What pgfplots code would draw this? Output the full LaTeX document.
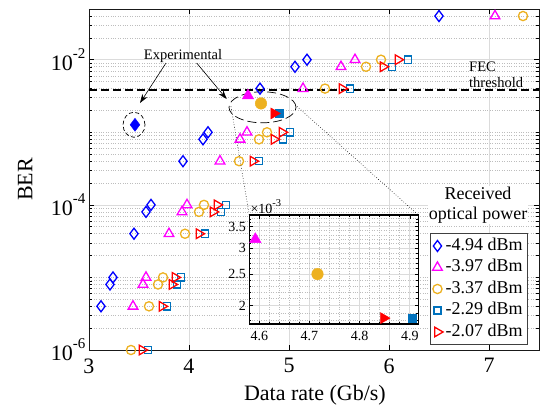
\documentclass[border=0pt]{standalone}
\usepackage{fontspec}
\setmainfont{Liberation Serif}
\usepackage{pgfplots}
\pgfplotsset{compat=1.18}
\usetikzlibrary{arrows.meta}
\definecolor{mOrange}{rgb}{0.929,0.694,0.125}
\definecolor{mBlue}{rgb}{0,0.447,0.741}
\definecolor{mMag}{rgb}{1,0,1}
\definecolor{gridc}{gray}{0.86}
\definecolor{mgridc}{gray}{0.74}
\newcommand{\sups}[1]{\raisebox{0.55em}{\fontsize{15}{15}\selectfont #1}}
\newcommand{\supi}[1]{\raisebox{0.5em}{\fontsize{10.5}{10.5}\selectfont #1}}
\pgfplotsset{
  sD/.style={only marks, color=blue, mark=diamond, mark size=5.5pt, mark options={solid, line width=1.3pt}},
  sT/.style={only marks, color=mMag, mark=triangle, mark size=5.6pt, mark options={solid, line width=1.3pt}},
  sO/.style={only marks, color=mOrange, mark=o, mark size=4.6pt, mark options={solid, line width=1.3pt}},
  sS/.style={only marks, color=mBlue, mark=square, mark size=3.6pt, mark options={solid, line width=1.3pt}},
  sR/.style={only marks, color=red, mark=triangle, mark size=5.6pt, mark options={solid, line width=1.3pt, rotate=-90}},
  fD/.style={only marks, color=blue, mark=diamond*, mark size=6.5pt, mark options={solid, fill=blue}},
  fT/.style={only marks, color=mMag, mark=triangle*, mark size=6.6pt, mark options={solid, fill=mMag}},
  fO/.style={only marks, color=mOrange, mark=*, mark size=5.8pt, mark options={solid, fill=mOrange}},
  fS/.style={only marks, color=mBlue, mark=square*, mark size=4pt, mark options={solid, fill=mBlue}},
  fR/.style={only marks, color=red, mark=triangle*, mark size=6.4pt, mark options={solid, fill=red, rotate=-90}},
}
\begin{document}
\begin{tikzpicture}
\begin{axis}[
  name=main, at={(0,0)}, anchor=south west,
  width=450pt, height=341pt, scale only axis,
  xmin=3, xmax=7.5, ymode=log, ymin=1e-6, ymax=0.05,
  xtick={3,4,5,6,7}, xticklabels={3,4,5,6,7},
  ytick={1e-6,1e-4,1e-2},
  yticklabels={10\sups{-6},10\sups{-4},10\sups{-2}},
  minor ytick={2e-6,3e-6,4e-6,5e-6,6e-6,7e-6,8e-6,9e-6,1e-5,2e-5,3e-5,4e-5,5e-5,6e-5,7e-5,8e-5,9e-5,2e-4,3e-4,4e-4,5e-4,6e-4,7e-4,8e-4,9e-4,1e-3,2e-3,3e-3,4e-3,5e-3,6e-3,7e-3,8e-3,9e-3,2e-2,3e-2,4e-2,5e-2},
  xmajorgrids, ymajorgrids, yminorgrids,
  major grid style={gridc, line width=0.6pt},
  minor grid style={mgridc, dotted, line width=0.6pt},
  tick align=inside, major tick length=5pt, minor tick length=3pt,
  tick style={black, line width=0.5pt},
  axis line style={black!90, line width=0.7pt},
  tick label style={font=\fontsize{22}{26}\selectfont},
  xticklabel style={yshift=-5pt},
  xlabel={Data rate (Gb/s)}, ylabel={BER},
  every axis x label/.style={at={(axis description cs:0.502,-0.132)}, anchor=center, font=\fontsize{22}{26}\selectfont},
  every axis y label/.style={at={(axis description cs:-0.142,0.5)}, anchor=center, rotate=90, font=\fontsize{22}{26}\selectfont},
  legend style={at={(0.974,0.0147)}, anchor=south east, draw=black!75, line width=0.5pt, fill=white,
     font=\fontsize{18}{21}\selectfont, inner sep=2pt, row sep=0pt,
     nodes={inner sep=2.5pt, text height=12.5pt, text depth=4pt}},
  legend cell align=left,
  clip=false,
]
% open markers
\addplot[sD] coordinates {(3.12,4e-6) (3.21,8e-6) (3.24,1e-5) (3.45,4e-5) (3.57,8e-5) (3.62,1e-4) (3.94,4e-4) (4.14,8e-4) (4.19,1e-3) (4.71,4e-3) (5.06,8e-3) (5.18,1e-2) (6.50,4e-2)};
\addlegendentry{-4.94 dBm}
\addplot[sT] coordinates {(3.44,4e-6) (3.54,8e-6) (3.57,1e-5) (3.80,4e-5) (3.93,8e-5) (3.98,1e-4) (4.31,4e-4) (4.51,8e-4) (4.58,1e-3) (5.14,4e-3) (5.52,8e-3) (5.66,1e-2) (7.06,4e-2)};
\addlegendentry{-3.97 dBm}
\addplot[sO] coordinates {(3.42,1e-6) (3.60,4e-6) (3.69,8e-6) (3.74,1e-5) (3.96,4e-5) (4.10,8e-5) (4.15,1e-4) (4.50,4e-4) (4.70,8e-4) (4.78,1e-3) (5.36,4e-3) (5.77,8e-3) (5.92,1e-2) (7.34,4e-2)};
\addlegendentry{-3.37 dBm}
\addplot[sS] coordinates {(3.59,1e-6) (3.78,4e-6) (3.88,8e-6) (3.92,1e-5) (4.16,4e-5) (4.32,8e-5) (4.37,1e-4) (4.70,4e-4) (4.94,8e-4) (5.01,1e-3) (5.61,4e-3) (6.03,8e-3) (6.19,1e-2)};
\addlegendentry{-2.29 dBm}
\addplot[sR] coordinates {(3.53,1e-6) (3.73,4e-6) (3.83,8e-6) (3.86,1e-5) (4.10,4e-5) (4.24,8e-5) (4.28,1e-4) (4.64,4e-4) (4.85,8e-4) (4.93,1e-3) (5.53,4e-3) (5.94,8e-3) (6.09,1e-2)};
\addlegendentry{-2.07 dBm}
% experimental (filled)
\addplot[fD, forget plot] coordinates {(3.46,1.27e-3)};
\addplot[fT, forget plot] coordinates {(4.59,3.2e-3)};
\addplot[fO, forget plot] coordinates {(4.72,2.5e-3)};
\addplot[fS, forget plot] coordinates {(4.905,1.82e-3)};
\addplot[fR, forget plot] coordinates {(4.85,1.82e-3)};
% FEC threshold
\addplot[black, line width=1.8pt, dash pattern=on 8pt off 4pt, forget plot] coordinates {(3,3.8e-3) (7.5,3.8e-3)};
% annotations
\draw[line width=0.7pt, dash pattern=on 4pt off 2.5pt] (axis cs:3.45,1.27e-3) ellipse [x radius=11pt, y radius=12.5pt];
\draw[line width=0.7pt, dash pattern=on 9pt off 4pt] (axis cs:4.735,2.21e-3) ellipse [x radius=33.5pt, y radius=15.5pt];
\draw[-{Stealth[length=9pt,width=6pt]}, line width=0.6pt] (axis cs:3.77,9e-3) -- (axis cs:3.51,2.53e-3);
\draw[-{Stealth[length=9pt,width=6pt]}, line width=0.6pt] (axis cs:4.077,9e-3) -- (axis cs:4.377,2.87e-3);
\node[font=\fontsize{14.5}{16.5}\selectfont] at (axis cs:3.94,1.11e-2) {Experimental};
\node[anchor=west, align=left, font=\fontsize{14.5}{16.6}\selectfont, inner sep=0pt] at (axis cs:6.80,6.2e-3) {FEC\\threshold};
\node[align=center, font=\fontsize{18}{20}\selectfont, inner sep=1pt, fill=white] at (axis cs:6.89,1e-4) {Received\\optical power};
\coordinate (eL) at (axis cs:4.42,2.27e-3);
\coordinate (eR) at (axis cs:5.08,2.27e-3);
\end{axis}

\begin{axis}[
  name=ins, at={(160.3pt,26pt)}, anchor=south west,
  width=169pt, height=109pt, scale only axis,
  xmin=4.58, xmax=4.917, ymode=log, ymin=1.755e-3, ymax=3.8e-3,
  xtick={4.6,4.7,4.8,4.9}, xticklabels={4.6,4.7,4.8,4.9},
  ytick={2e-3,2.5e-3,3e-3,3.5e-3}, yticklabels={2,2.5,3,3.5},
  minor xtick={4.62,4.64,4.66,4.68,4.72,4.74,4.76,4.78,4.82,4.84,4.86,4.88},
  minor ytick={1.8e-3,1.9e-3,2.1e-3,2.2e-3,2.3e-3,2.4e-3,2.6e-3,2.7e-3,2.8e-3,2.9e-3,3.1e-3,3.2e-3,3.3e-3,3.4e-3,3.6e-3,3.7e-3},
  xmajorgrids, ymajorgrids, xminorgrids, yminorgrids,
  major grid style={gridc, line width=0.6pt},
  minor grid style={mgridc, dotted, line width=0.6pt},
  axis background/.style={fill=white},
  axis line style={black, line width=1.3pt},
  tick align=inside, major tick length=3.5pt, minor tick length=2pt,
  tick style={black, line width=0.5pt},
  tick label style={font=\fontsize{14}{16}\selectfont},
  xticklabel style={yshift=-4pt},
  clip=false,
]
\addplot[fT] coordinates {(4.592,3.2e-3)};
\addplot[fO] coordinates {(4.716,2.5e-3)};
\addplot[fR] coordinates {(4.848,1.83e-3)};
\addplot[fS] coordinates {(4.905,1.83e-3)};
\addplot[black, line width=1.8pt, dash pattern=on 8pt off 4pt] coordinates {(4.58,3.8e-3) (4.917,3.8e-3)};
\node[anchor=south west, inner sep=1pt, font=\fontsize{14}{16}\selectfont] at (rel axis cs:0,1) {×10\supi{-3}};
\end{axis}
\draw[dotted, line width=0.6pt] (eL) -- (ins.north west);
\draw[dotted, line width=0.6pt] (eR) -- (ins.north east);
\pgfresetboundingbox
\path[use as bounding box] (-89pt,-56pt) rectangle (452pt,350pt);
\end{tikzpicture}
\end{document}
